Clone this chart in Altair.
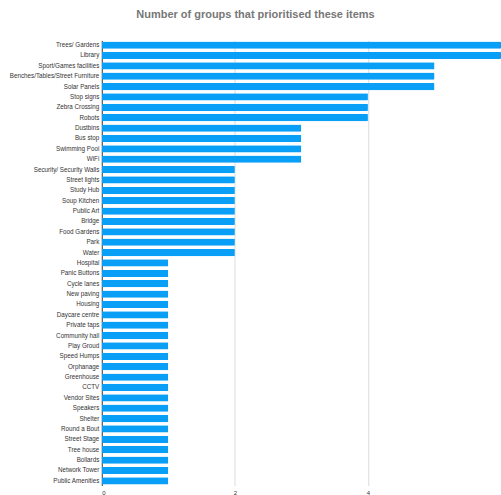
import altair as alt
import pandas as pd

items = [
    "Trees/ Gardens", "Library", "Sport/Games facilities", "Benches/Tables/Street Furniture",
    "Solar Panels", "Stop signs", "Zebra Crossing", "Robots", "Dustbins", "Bus stop",
    "Swimming Pool", "WiFi", "Security/ Security Walls", "Street lights", "Study Hub",
    "Soup Kitchen", "Public Art", "Bridge", "Food Gardens", "Park", "Water", "Hospital",
    "Panic Buttons", "Cycle lanes", "New paving", "Housing", "Daycare centre", "Private taps",
    "Community hall", "Play Groud", "Speed Humps", "Orphanage", "Greenhouse", "CCTV",
    "Vendor Sites", "Speakers", "Shelter", "Round a Bout", "Street Stage", "Tree house",
    "Bollards", "Network Tower", "Public Amenities",
]
counts = [6, 6, 5, 5, 5, 4, 4, 4, 3, 3, 3, 3, 2, 2, 2, 2, 2, 2, 2, 2, 2,
          1, 1, 1, 1, 1, 1, 1, 1, 1, 1, 1, 1, 1, 1, 1, 1, 1, 1, 1, 1, 1, 1]
x_ticks = [0, 2, 4]

df = pd.DataFrame({"item": items, "count": counts})

chart = alt.Chart(df).mark_bar(color="#0a9ff7", cornerRadius=1).encode(
    x=alt.X("count:Q", scale=alt.Scale(domain=[0, 6], nice=False),
            axis=alt.Axis(title=None, values=x_ticks, grid=True, gridColor="#dcdcdc",
                          domain=False, ticks=False, labelFontSize=6, labelColor="#333",
                          labelPadding=4, labelFont="Liberation Sans")),
    y=alt.Y("item:N", sort=items,
            scale=alt.Scale(paddingInner=0.3, paddingOuter=0.1),
            axis=alt.Axis(title=None, ticks=False, domain=True, domainColor="#444",
                          labelFontSize=6.3, labelColor="#333", labelPadding=3,
                          labelFont="Liberation Sans", grid=False)),
).properties(
    width=400, height=446,
    title=alt.TitleParams("Number of groups that prioritised these items",
                          font="Liberation Sans", fontSize=11, fontWeight="bold",
                          color="#777777", anchor="middle", dx=-46, offset=20),
    autosize=alt.AutoSizeParams(type="none"),
    padding={"left": 102, "top": 40, "right": 0, "bottom": 9},
).configure_view(stroke=None)

chart.save("out.html", embed_options={"renderer": "svg", "actions": False})
